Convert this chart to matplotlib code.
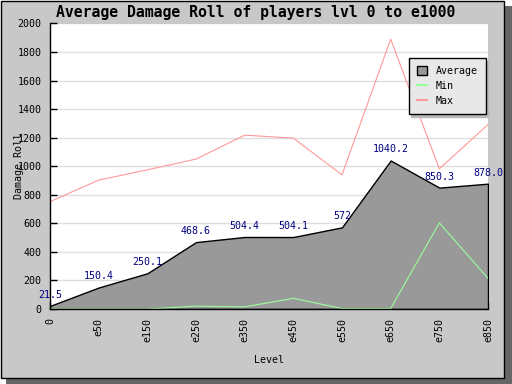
import matplotlib
matplotlib.use("Agg")
import matplotlib.pyplot as plt
from matplotlib.patches import Rectangle, Patch
from matplotlib.lines import Line2D

levels = ["0", "e50", "e150", "e250", "e350", "e450", "e550", "e650", "e750", "e850"]
average = [21.5, 150.4, 250.1, 468.6, 504.4, 504.1, 572, 1040.2, 850.3, 878.0]
average_labels = ["21.5", "150.4", "250.1", "468.6", "504.4", "504.1", "572", "1040.2", "850.3", "878.0"]
minimum = [0, 0, 0, 20, 15, 75, 3, 3, 603, 215]
maximum = [752, 903, 975, 1050, 1218, 1197, 940, 1890, 982, 1292]
y_ticks = list(range(0, 2001, 200))

W, H = 512, 384
mono = "DejaVu Sans Mono"
plt.rcParams["font.family"] = mono

fig = plt.figure(figsize=(W / 100, H / 100), dpi=100)
fig.patch.set_facecolor("white")

# drop shadow and panel
fig.add_artist(Rectangle((6 / W, 0), 1 - 6 / W, (H - 6) / H, transform=fig.transFigure,
                         facecolor="#666666", edgecolor="none", zorder=-10))
fig.add_artist(Rectangle((0.5 / W, 6.5 / H), 503 / W, 377 / H, transform=fig.transFigure,
                         facecolor="#c8c8c8", edgecolor="black", linewidth=1.0, zorder=-9))

ax = fig.add_axes([50 / W, (H - 309) / H, 438 / W, 285.5 / H])
ax.set_facecolor("white")
x = list(range(len(levels)))

ax.fill_between(x, 0, average, facecolor="#999999", edgecolor="black", linewidth=1.0, zorder=2)
ax.plot(x, maximum, color="#ff9999", linewidth=0.8, zorder=3)
ax.plot(x, minimum, color="#99ff99", linewidth=0.8, zorder=3)

for xi, v, lab in zip(x, average, average_labels):
    ax.annotate(lab, (xi, v), xytext=(0, 8), textcoords="offset points",
                ha="center", va="center", color="#000080", fontsize=7.2,
                annotation_clip=False, zorder=5)

ax.set_xlim(0, len(levels) - 1)
ax.set_ylim(0, 2000)
ax.set_yticks(y_ticks)
ax.set_yticklabels([str(t) for t in y_ticks], fontsize=7.2)
ax.set_xticks(x)
ax.set_xticklabels(levels, rotation=90, fontsize=7.2)
ax.tick_params(axis="x", direction="in", length=5, width=1, pad=6.5, top=False)
ax.tick_params(axis="y", direction="in", length=5, width=1, pad=6, right=False)
ax.yaxis.grid(True, color="#dddddd", linewidth=1.0, zorder=0)
ax.set_axisbelow(True)
for s in ["top", "right"]:
    ax.spines[s].set_visible(False)
for s in ["left", "bottom"]:
    ax.spines[s].set_linewidth(1.0)
    ax.spines[s].set_zorder(6)

fig.text(0.5, 1 - 12 / H, "Average Damage Roll of players lvl 0 to e1000",
         ha="center", va="center", fontsize=10.6, fontweight="bold", family=mono)
fig.text(19.5 / W, 1 - 166 / H, "Damage Roll", rotation=90, ha="center", va="center",
         fontsize=7.2)
fig.text(269 / W, 1 - 360 / H, "Level", ha="center", va="center", fontsize=7.2)

handles = [Patch(facecolor="#999999", edgecolor="black", linewidth=1.0),
           Line2D([], [], color="#99ff99", linewidth=1.5),
           Line2D([], [], color="#ff9999", linewidth=1.5)]
leg = ax.legend(handles, ["Average", "Min", "Max"], loc="upper right",
                bbox_to_anchor=(485.7 / W, 1 - 58.3 / H), bbox_transform=fig.transFigure,
                borderaxespad=0, fontsize=7.2, frameon=True, fancybox=False,
                shadow={"color": "#b8b8b8", "alpha": 1}, handlelength=1.0, handleheight=1.0,
                handletextpad=0.9, labelspacing=0.5, borderpad=0.8)
leg.get_frame().set_facecolor("#e8e8e8")
leg.get_frame().set_edgecolor("black")
leg.get_frame().set_linewidth(1.0)
leg.get_frame().set_alpha(1)
leg.set_zorder(10)

fig.savefig("out.png", dpi=100)
